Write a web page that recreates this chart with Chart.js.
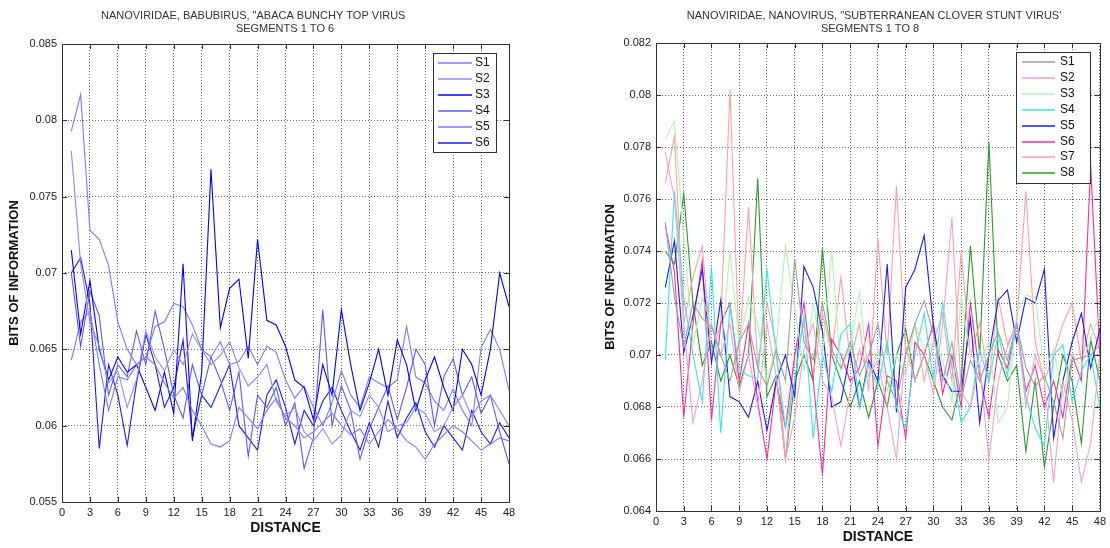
<!DOCTYPE html>
<html><head><meta charset="utf-8">
<script src="https://cdn.jsdelivr.net/npm/chart.js@4/dist/chart.umd.min.js"></script>
<style>
html,body{margin:0;padding:0;background:#fff;}
#wrap{position:relative;width:1110px;height:548px;background:#fff;}
.panel{position:absolute;top:0;width:555px;height:548px;}
</style></head><body>
<div id="wrap">
<div class="panel" style="left:0"><canvas id="c1"></canvas></div>
<div class="panel" style="left:555px"><canvas id="c2"></canvas></div>
</div>
<script>
// ---------- data ----------
const distance = [1,2,3,4,5,6,7,8,9,10,11,12,13,14,15,16,17,18,19,20,21,22,23,24,25,26,27,28,29,30,31,32,33,34,35,36,37,38,39,40,41,42,43,44,45,46,47,48];
const xTickValues = [0,3,6,9,12,15,18,21,24,27,30,33,36,39,42,45,48];

const leftTitle = ['NANOVIRIDAE, BABUBIRUS, "ABACA BUNCHY TOP VIRUS', 'SEGMENTS 1 TO 6'];
const rightTitle = ['NANOVIRIDAE, NANOVIRUS, "SUBTERRANEAN CLOVER STUNT VIRUS\'', 'SEGMENTS 1 TO 8'];
const xAxisTitle = 'DISTANCE';
const yAxisTitle = 'BITS OF INFORMATION';

const leftYTickValues = [0.055,0.06,0.065,0.07,0.075,0.08,0.085];
const leftYTickLabels = ['0.055','0.06','0.065','0.07','0.075','0.08','0.085'];
const rightYTickValues = [0.064,0.066,0.068,0.07,0.072,0.074,0.076,0.078,0.08,0.082];
const rightYTickLabels = ['0.064','0.066','0.068','0.07','0.072','0.074','0.076','0.078','0.08','0.082'];

const leftLabels = ['S1','S2','S3','S4','S5','S6'];
const leftColors = ['#7a7aff','#8a8aff','#0000ff','#5a5aff','#7a7aff','#1a1aff'];
const bS1 = [0.0793,0.0817,0.0728,0.0722,0.0705,0.0668,0.0650,0.0640,0.0645,0.0640,0.0628,0.0618,0.0625,0.0610,0.0600,0.0588,0.0586,0.0590,0.0612,0.0605,0.0598,0.0610,0.0618,0.0605,0.0600,0.0592,0.0596,0.0602,0.0608,0.0600,0.0594,0.0598,0.0588,0.0596,0.0604,0.0598,0.0590,0.0586,0.0578,0.0588,0.0594,0.0600,0.0596,0.0590,0.0584,0.0588,0.0592,0.0590];
const bS2 = [0.0780,0.0706,0.0668,0.0652,0.0628,0.0636,0.0612,0.0630,0.0662,0.0645,0.0636,0.0650,0.0640,0.0660,0.0650,0.0640,0.0646,0.0655,0.0638,0.0626,0.0632,0.0640,0.0616,0.0606,0.0612,0.0596,0.0590,0.0598,0.0588,0.0594,0.0610,0.0606,0.0620,0.0612,0.0596,0.0600,0.0602,0.0612,0.0608,0.0596,0.0600,0.0612,0.0620,0.0606,0.0616,0.0620,0.0610,0.0600];
const bS3 = [0.0715,0.0660,0.0695,0.0650,0.0630,0.0645,0.0635,0.0640,0.0625,0.0610,0.0635,0.0608,0.0706,0.0590,0.0635,0.0768,0.0664,0.0690,0.0696,0.0644,0.0722,0.0669,0.0666,0.0652,0.0630,0.0625,0.0604,0.0640,0.0620,0.0676,0.0640,0.0610,0.0628,0.0650,0.0620,0.0656,0.0640,0.0610,0.0630,0.0645,0.0625,0.0610,0.0650,0.0640,0.0620,0.0650,0.0700,0.0678];
const bS4 = [0.0700,0.0652,0.0688,0.0672,0.0620,0.0640,0.0632,0.0662,0.0640,0.0675,0.0650,0.0620,0.0605,0.0640,0.0620,0.0645,0.0630,0.0610,0.0635,0.0580,0.0620,0.0612,0.0625,0.0600,0.0615,0.0572,0.0592,0.0676,0.0600,0.0626,0.0610,0.0578,0.0598,0.0612,0.0626,0.0604,0.0625,0.0650,0.0640,0.0600,0.0632,0.0644,0.0620,0.0632,0.0608,0.0620,0.0596,0.0575];
const bS5 = [0.0643,0.0668,0.0675,0.0640,0.0610,0.0632,0.0630,0.0640,0.0645,0.0665,0.0668,0.0680,0.0678,0.0666,0.0650,0.0645,0.0655,0.0640,0.0642,0.0652,0.0640,0.0652,0.0648,0.0630,0.0618,0.0626,0.0612,0.0600,0.0615,0.0636,0.0620,0.0612,0.0632,0.0628,0.0625,0.0630,0.0665,0.0632,0.0628,0.0616,0.0610,0.0624,0.0610,0.0600,0.0651,0.0663,0.0650,0.0623];
const bS6 = [0.0700,0.0710,0.0680,0.0585,0.0640,0.0620,0.0587,0.0628,0.0660,0.0640,0.0612,0.0625,0.0656,0.0592,0.0620,0.0612,0.0626,0.0640,0.0600,0.0592,0.0584,0.0620,0.0630,0.0612,0.0588,0.0610,0.0600,0.0616,0.0625,0.0610,0.0596,0.0584,0.0602,0.0586,0.0616,0.0592,0.0605,0.0615,0.0596,0.0586,0.0600,0.0592,0.0584,0.0610,0.0596,0.0588,0.0602,0.0592];

const rightLabels = ['S1','S2','S3','S4','S5','S6','S7','S8'];
const rightColors = ['#a0a0a0','#f5a0c8','#b0f5b0','#30eaea','#1a1aff','#ff2a9a','#ffa0a0','#2e982e'];
const nS1 = [0.0751,0.0722,0.0703,0.0720,0.0714,0.0711,0.0700,0.0690,0.0705,0.0712,0.0695,0.0688,0.0702,0.0690,0.0737,0.0705,0.0698,0.0720,0.0702,0.0695,0.0705,0.0692,0.0700,0.0712,0.0690,0.0682,0.0700,0.0712,0.0721,0.0708,0.0690,0.0705,0.0683,0.0698,0.0690,0.0700,0.0709,0.0698,0.0712,0.0695,0.0688,0.0692,0.0682,0.0668,0.0698,0.0699,0.0700,0.0704];
const nS2 = [0.0778,0.0760,0.0712,0.0674,0.0690,0.0712,0.0700,0.0712,0.0686,0.0700,0.0680,0.0712,0.0692,0.0660,0.0676,0.0702,0.0712,0.0690,0.0684,0.0665,0.0686,0.0702,0.0692,0.0698,0.0680,0.0660,0.0703,0.0690,0.0700,0.0685,0.0712,0.0753,0.0686,0.0680,0.0696,0.0660,0.0690,0.0703,0.0712,0.0680,0.0700,0.0690,0.0651,0.0690,0.0675,0.0651,0.0666,0.0700];
const nS3 = [0.0783,0.0790,0.0745,0.0704,0.0722,0.0712,0.0700,0.0740,0.0704,0.0722,0.0712,0.0690,0.0704,0.0742,0.0718,0.0694,0.0720,0.0700,0.0740,0.0694,0.0704,0.0724,0.0690,0.0702,0.0686,0.0700,0.0692,0.0712,0.0702,0.0705,0.0698,0.0682,0.0722,0.0700,0.0696,0.0705,0.0674,0.0680,0.0716,0.0723,0.0722,0.0694,0.0702,0.0684,0.0700,0.0696,0.0706,0.0716];
const nS4 = [0.0698,0.0763,0.0722,0.0700,0.0682,0.0734,0.0670,0.0719,0.0694,0.0692,0.0691,0.0733,0.0700,0.0672,0.0690,0.0715,0.0668,0.0700,0.0686,0.0708,0.0712,0.0680,0.0696,0.0688,0.0705,0.0680,0.0672,0.0700,0.0716,0.0690,0.0720,0.0695,0.0674,0.0680,0.0702,0.0690,0.0708,0.0692,0.0712,0.0684,0.0672,0.0665,0.0700,0.0704,0.0682,0.0694,0.0700,0.0680];
const nS5 = [0.0726,0.0744,0.0701,0.0715,0.0733,0.0697,0.0721,0.0684,0.0682,0.0676,0.0690,0.0671,0.0690,0.0700,0.0684,0.0734,0.0726,0.0709,0.0680,0.0682,0.0701,0.0680,0.0698,0.0690,0.0735,0.0678,0.0726,0.0733,0.0746,0.0711,0.0692,0.0686,0.0686,0.0714,0.0674,0.0700,0.0721,0.0725,0.0705,0.0722,0.0720,0.0733,0.0668,0.0690,0.0705,0.0716,0.0695,0.0710];
const nS6 = [0.0750,0.0732,0.0676,0.0712,0.0736,0.0675,0.0712,0.0720,0.0690,0.0712,0.0682,0.0660,0.0690,0.0672,0.0700,0.0720,0.0690,0.0654,0.0706,0.0700,0.0690,0.0695,0.0712,0.0665,0.0692,0.0690,0.0668,0.0705,0.0700,0.0712,0.0685,0.0700,0.0680,0.0720,0.0692,0.0676,0.0702,0.0695,0.0712,0.0686,0.0696,0.0680,0.0690,0.0676,0.0700,0.0690,0.0773,0.0700];
const nS7 = [0.0766,0.0784,0.0712,0.0730,0.0742,0.0700,0.0712,0.0802,0.0700,0.0757,0.0696,0.0720,0.0704,0.0660,0.0700,0.0712,0.0692,0.0716,0.0700,0.0730,0.0698,0.0712,0.0686,0.0745,0.0700,0.0765,0.0700,0.0712,0.0690,0.0705,0.0716,0.0690,0.0740,0.0700,0.0712,0.0690,0.0722,0.0704,0.0712,0.0763,0.0705,0.0690,0.0700,0.0712,0.0720,0.0698,0.0712,0.0702];
const nS8 = [0.0740,0.0735,0.0762,0.0720,0.0696,0.0705,0.0690,0.0700,0.0688,0.0700,0.0768,0.0684,0.0692,0.0660,0.0690,0.0700,0.0690,0.0741,0.0700,0.0690,0.0680,0.0690,0.0676,0.0690,0.0680,0.0700,0.0710,0.0690,0.0700,0.0690,0.0680,0.0675,0.0690,0.0742,0.0700,0.0782,0.0700,0.0690,0.0696,0.0663,0.0690,0.0657,0.0680,0.0700,0.0690,0.0666,0.0706,0.0690];

const leftSeries = [bS1,bS2,bS3,bS4,bS5,bS6];
const rightSeries = [nS1,nS2,nS3,nS4,nS5,nS6,nS7,nS8];

// ---------- rendering ----------
Chart.defaults.font.family = '"Liberation Sans", Arial, Helvetica, sans-serif';
Chart.defaults.color = '#222';
Chart.defaults.animation = false;

const framePlugin = {
  id: 'frame',
  afterDraw(chart, args, opts) {
    const {ctx, chartArea: a} = chart;
    const xs = chart.scales.x, ys = chart.scales.y;
    ctx.save();
    ctx.strokeStyle = '#333';
    ctx.lineWidth = 1;
    ctx.beginPath();
    xs.ticks.forEach(t => {
      const px = Math.round(xs.getPixelForValue(t.value)) + 0.5;
      ctx.moveTo(px, a.bottom); ctx.lineTo(px, a.bottom - 5);
      ctx.moveTo(px, a.top); ctx.lineTo(px, a.top + 5);
    });
    ys.ticks.forEach(t => {
      const py = Math.round(ys.getPixelForValue(t.value)) + 0.5;
      ctx.moveTo(a.left, py); ctx.lineTo(a.left + 5, py);
      ctx.moveTo(a.right, py); ctx.lineTo(a.right - 5, py);
    });
    ctx.stroke();
    ctx.strokeStyle = '#333';
    ctx.strokeRect(Math.round(a.left) + 0.5, Math.round(a.top) + 0.5, Math.round(a.right - a.left), Math.round(a.bottom - a.top));
    const L = opts.legend;
    ctx.fillStyle = '#fff';
    ctx.fillRect(L.x0, L.y0, L.x1 - L.x0, L.y1 - L.y0);
    ctx.strokeStyle = '#333';
    ctx.strokeRect(L.x0 + 0.5, L.y0 + 0.5, L.x1 - L.x0, L.y1 - L.y0);
    ctx.font = '12px "Liberation Sans", Arial, sans-serif';
    ctx.textBaseline = 'middle';
    ctx.textAlign = 'left';
    chart.data.datasets.forEach((ds, i) => {
      const y = Math.round(L.rowY0 + i * L.rowH);
      ctx.strokeStyle = ds.borderColor;
      ctx.lineWidth = 1.5;
      ctx.beginPath(); ctx.moveTo(L.lx0, y); ctx.lineTo(L.lx1, y); ctx.stroke();
      ctx.fillStyle = '#111';
      ctx.fillText(ds.label, L.tx, y);
    });
    ctx.fillStyle = '#333';
    ctx.font = '11px "Liberation Sans", Arial, sans-serif';
    opts.titles.forEach(t => {
      ctx.textAlign = t.align;
      ctx.fillText(t.text, t.x, t.y);
    });
    ctx.restore();
  }
};

function makeChart(id, labels, colors, series, yVals, yLabels, yMin, yMax, geo) {
  const datasets = series.map((s, i) => ({
    label: labels[i],
    data: distance.map((d, j) => ({x: d, y: s[j]})),
    borderColor: colors[i],
    borderWidth: 1.1,
    pointRadius: 0,
    tension: 0,
    fill: false
  }));
  return new Chart(document.getElementById(id), {
    type: 'line',
    data: {datasets},
    options: {
      responsive: true,
      maintainAspectRatio: false,
      layout: {padding: {left: 0, right: geo.padRight, top: geo.padTop, bottom: 0}},
      plugins: {
        legend: {display: false},
        tooltip: {enabled: false},
        frame: {legend: geo.legend, titles: geo.titles}
      },
      scales: {
        x: {
          type: 'linear', min: 0, max: 48,
          afterBuildTicks: s => { s.ticks = xTickValues.map(v => ({value: v})); },
          afterFit: s => { s.height = geo.xHeight; },
          ticks: {padding: 4, maxRotation: 0, autoSkip: false, font: {size: 11}, color: '#222'},
          grid: {color: '#666', lineWidth: 1, drawTicks: false},
          border: {display: false, dash: [1, 2]},
          title: {display: true, text: xAxisTitle, font: {size: 14, weight: 'bold'}, color: '#111', padding: {top: 0, bottom: geo.xTitlePad}}
        },
        y: {
          type: 'linear', min: yMin, max: yMax,
          afterBuildTicks: s => { s.ticks = yVals.map(v => ({value: v})); },
          afterFit: s => { s.width = geo.yWidth; },
          ticks: {padding: 5, autoSkip: false, font: {size: 11}, color: '#222',
                  callback: (v, i) => yLabels[i]},
          grid: {color: '#666', lineWidth: 1, drawTicks: false},
          border: {display: false, dash: [1, 2]},
          title: {display: true, text: yAxisTitle, font: {size: 13, weight: 'bold'}, color: '#111', padding: {top: geo.yTitlePad, bottom: 0}}
        }
      }
    },
    plugins: [framePlugin]
  });
}

makeChart('c1', leftLabels, leftColors, leftSeries, leftYTickValues, leftYTickLabels, 0.055, 0.085, {
  padRight: 46, padTop: 44, xHeight: 46, yWidth: 62, xTitlePad: 11, yTitlePad: 7,
  legend: {x0: 433, y0: 53, x1: 496, y1: 152, lx0: 438, lx1: 472, tx: 475, rowY0: 63, rowH: 15.9},
  titles: [{text: leftTitle[0], x: 101, y: 16, align: 'left'}, {text: leftTitle[1], x: 285, y: 29, align: 'center'}]
});

makeChart('c2', rightLabels, rightColors, rightSeries, rightYTickValues, rightYTickLabels, 0.064, 0.082, {
  padRight: 7, padTop: 43, xHeight: 37, yWidth: 101, xTitlePad: 2, yTitlePad: 48,
  legend: {x0: 461, y0: 52, x1: 535, y1: 183, lx0: 467, lx1: 500, tx: 505, rowY0: 62, rowH: 15.9},
  titles: [{text: rightTitle[0], x: 319, y: 16, align: 'center'}, {text: rightTitle[1], x: 315, y: 29, align: 'center'}]
});
</script>
</body></html>
